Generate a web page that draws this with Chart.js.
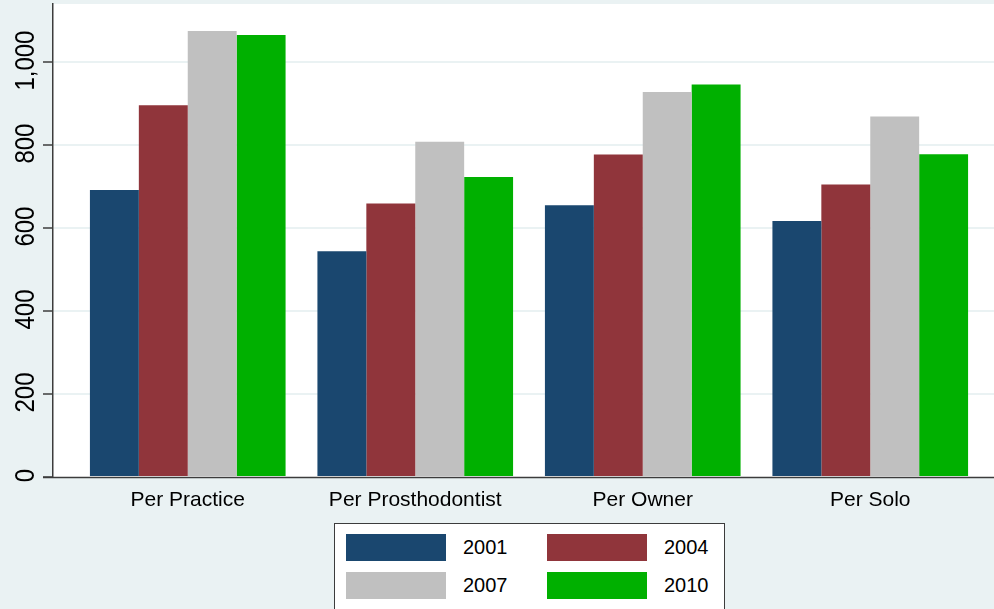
<!DOCTYPE html>
<html>
<head>
<meta charset="utf-8">
<script src="https://cdn.jsdelivr.net/npm/chart.js@4/dist/chart.umd.min.js"></script>
<style>
  body { margin: 0; background: #eaf2f3; overflow: hidden; }
  #wrap { position: relative; width: 994px; height: 609px; }
  #legend {
    position: absolute; left: 334px; top: 523px; width: 391px; height: 100px;
    box-sizing: border-box; border: 1.5px solid #3c3c3c; background: #fff;
    padding: 9.5px 0 0 11px;
    display: grid; grid-template-columns: 201px 180px; grid-auto-rows: 27px;
    align-content: start; row-gap: 11px;
    font-family: "Liberation Sans", Arial, sans-serif; font-size: 20px; color: #000;
  }
  .item { display: flex; align-items: center; height: 27px; }
  .swatch { width: 100px; height: 27px; margin-right: 17px; }
</style>
</head>
<body>
<div id="wrap">
  <canvas id="chart"></canvas>
  <div id="legend"></div>
</div>
<script>
// dados
const categories = ['Per Practice', 'Per Prosthodontist', 'Per Owner', 'Per Solo'];
const years = ['2001', '2004', '2007', '2010'];
const v2001 = [692, 544, 655, 617];
const v2004 = [896, 659, 777, 705];
const v2007 = [1075, 808, 928, 869];
const v2010 = [1065, 723, 946, 778];
const yTicks = [0, 200, 400, 600, 800, 1000];

const colors = ['#1a476f', '#90353b', '#c0c0c0', '#00b000'];
const axisColor = '#3c3c3c';
const font = '"Liberation Sans", Arial, sans-serif';

// fundo branco da área do gráfico
const plotBackground = {
    id: 'plotBackground',
    beforeDraw(chart) {
        const {ctx, chartArea: a} = chart;
        ctx.save();
        ctx.fillStyle = '#fff';
        ctx.fillRect(a.left, a.top, a.right - a.left, a.bottom - a.top);
        ctx.restore();
    }
};

// as categorias não ocupam toda a largura do plot (estilo Stata)
const categoryInset = {
    id: 'categoryInset',
    afterLayout(chart) {
        const x = chart.scales.x;
        const area = chart.chartArea;
        x.left = area.left + 21;
        x.right = area.right - 10;
        x.width = x.right - x.left;
        x.configure();
    }
};

// rótulos do eixo y girados e linha de base
const yLabels = {
    id: 'yLabels',
    afterDatasetsDraw(chart) {
        const ctx = chart.ctx;
        const y = chart.scales.y;
        const area = chart.chartArea;
        const base = y.getPixelForValue(0);
        ctx.save();
        ctx.strokeStyle = axisColor;
        ctx.lineWidth = 1.5;
        ctx.beginPath();
        ctx.moveTo(area.left - 10, base + 0.5);
        ctx.lineTo(area.right, base + 0.5);
        ctx.stroke();
        ctx.restore();
    },
    afterDraw(chart) {
        const ctx = chart.ctx;
        const y = chart.scales.y;
        ctx.save();
        ctx.fillStyle = '#000';
        ctx.font = '24px ' + font;
        ctx.textAlign = 'center';
        ctx.textBaseline = 'alphabetic';
        y.ticks.forEach(t => {
            const py = y.getPixelForValue(t.value);
            ctx.save();
            ctx.translate(33.5, py - 1.5);
            ctx.rotate(-Math.PI / 2);
            ctx.scale(1, 1.17);
            ctx.fillText(t.value.toLocaleString('en-US'), 0, 0);
            ctx.restore();
        });
        ctx.restore();
    }
};

const seriesValues = [v2001, v2004, v2007, v2010];

const chart = new Chart(document.getElementById('chart'), {
    type: 'bar',
    data: {
        labels: categories,
        datasets: years.map((yr, i) => ({
            label: yr,
            data: seriesValues[i],
            backgroundColor: colors[i],
            borderWidth: 0,
            categoryPercentage: 0.86,
            barPercentage: 1
        }))
    },
    options: {
        responsive: true,
        maintainAspectRatio: false,
        animation: false,
        layout: { padding: { top: 4, left: 0, right: 0, bottom: 0 } },
        plugins: {
            legend: { display: false },
            tooltip: { enabled: false }
        },
        scales: {
            x: {
                grid: { display: false },
                border: { display: false },
                ticks: {
                    color: '#000',
                    padding: 3,
                    font: { family: font, size: 21 }
                },
                afterFit(scale) { scale.height = 132; }
            },
            y: {
                min: 0,
                max: 1140,
                border: { display: true, color: axisColor, width: 1.5 },
                grid: {
                    color: ctx => ctx.tick && ctx.tick.value === 0 ? 'rgba(0,0,0,0)' : '#eaf2f3',
                    lineWidth: 2,
                    tickColor: axisColor,
                    tickWidth: 1.5,
                    tickLength: 10,
                    drawTicks: true
                },
                ticks: { display: false, stepSize: 200 },
                afterBuildTicks(scale) {
                    scale.ticks = yTicks.map(v => ({ value: v }));
                },
                afterFit(scale) { scale.width = 53; }
            }
        }
    },
    plugins: [plotBackground, categoryInset, yLabels]
});

// legenda em HTML, 2 x 2
const legendEl = document.getElementById('legend');
chart.data.datasets.forEach(ds => {
    const item = document.createElement('div');
    item.className = 'item';
    item.innerHTML = '<span class="swatch" style="background:' + ds.backgroundColor + '"></span><span>' + ds.label + '</span>';
    legendEl.appendChild(item);
});
</script>
</body>
</html>
